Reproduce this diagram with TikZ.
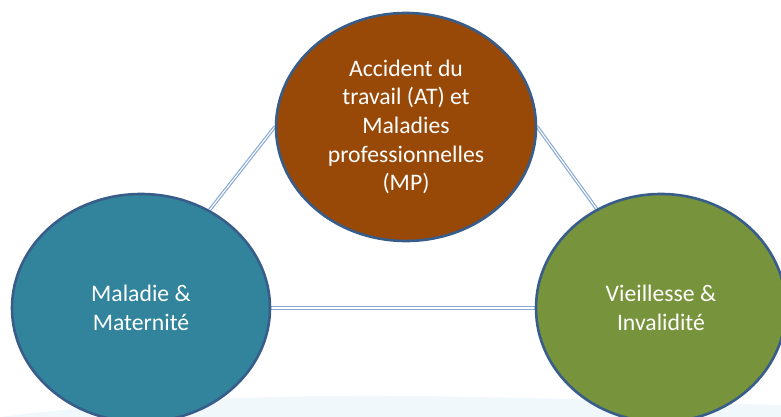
\documentclass[tikz,border=0pt]{standalone}
\usepackage{fontspec}
\setmainfont{Carlito}
\usetikzlibrary{shapes.geometric,backgrounds}
\definecolor{brownfill}{HTML}{984807}
\definecolor{tealfill}{HTML}{31849B}
\definecolor{greenfill}{HTML}{77933C}
\definecolor{outline}{HTML}{385D8A}
\definecolor{linkblue}{HTML}{86A8D6}
\definecolor{swoosh}{HTML}{E6F4FA}
\tikzset{
  bubble/.style={ellipse, draw=outline, line width=2.6pt, inner sep=0pt,
    text=white, align=center, font=\fontsize{23.7}{28.6}\selectfont},
  linkouter/.style={draw=linkblue, line width=3.4pt},
  linkinner/.style={draw=white, line width=1.1pt}
}
\begin{document}
\begin{tikzpicture}[x=1pt,y=-1pt]
\useasboundingbox (0,0) rectangle (781,417);
\node[bubble, fill=brownfill, minimum width=260pt, minimum height=228pt] (at) at (406,127)
  {Accident du\\travail (AT) et\\Maladies\\professionnelles\\(MP)};
\node[bubble, fill=tealfill, minimum width=258pt, minimum height=228pt] (mal) at (141,308)
  {Maladie \&\\Maternité};
\node[bubble, fill=greenfill, minimum width=250pt, minimum height=228pt] (vie) at (661,308)
  {Vieillesse \&\\Invalidité};
\begin{scope}[on background layer]
% faint background swoosh
\fill[swoosh, opacity=0.6] (0,417) .. controls (120,402) and (250,394) .. (420,396)
  .. controls (560,398) and (700,403) .. (781,405) -- (781,417) -- cycle;
\draw[linkouter] (at.west) -- (mal.55);
\draw[linkouter] (at.east) -- (vie.123);
\draw[linkouter] (mal.east) -- (mal.east -| vie.west);
\draw[linkinner] (at.west) -- (mal.55);
\draw[linkinner] (at.east) -- (vie.123);
\draw[linkinner] (mal.east) -- (mal.east -| vie.west);
\end{scope}
\end{tikzpicture}
\end{document}
